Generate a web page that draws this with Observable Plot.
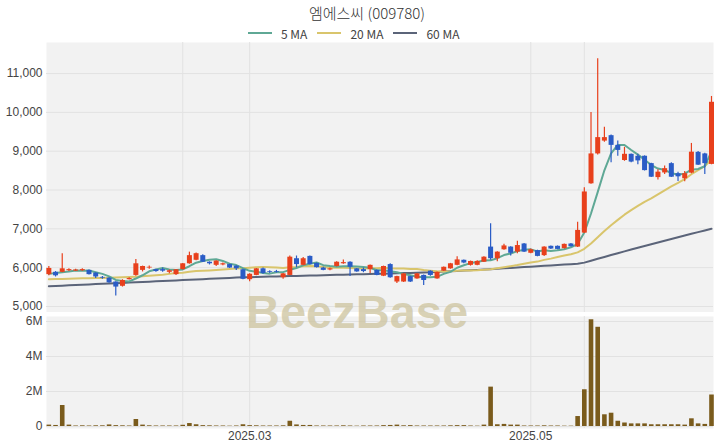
<!DOCTYPE html>
<html><head><meta charset="utf-8">
<script src="https://cdn.jsdelivr.net/npm/d3@7"></script>
<script src="https://cdn.jsdelivr.net/npm/@observablehq/plot@0.6"></script>
<style>
body{margin:0;background:#fff;width:720px;height:448px;overflow:hidden;position:relative;font-family:"Noto Sans CJK KR","Noto Sans",sans-serif}
#title{position:absolute;top:2px;left:0;width:734px;text-align:center;font-size:15px;color:#333;line-height:22px;font-weight:300}
#legend{position:absolute;top:25px;left:248px;height:16px;display:flex;align-items:center;font-size:12px;color:#444}
#legend .sw{display:inline-block;width:24px;height:2px;margin-right:9px}
#legend .it{display:flex;align-items:center;margin-right:10px}
#price{position:absolute;top:42px;left:0}
#vol{position:absolute;top:314px;left:0}
#wm{position:absolute;left:246px;top:284px;font-family:"Liberation Sans",Arial,sans-serif;font-weight:bold;font-size:47px;color:rgba(205,196,158,0.75);pointer-events:none;letter-spacing:0px}
svg text{font-family:"Liberation Sans",Arial,sans-serif}
</style></head>
<body>
<div id="title">엠에스씨 (009780)</div>
<div id="legend"></div>
<div id="price"></div>
<div id="vol"></div>
<div id="wm">BeezBase</div>
<script>
const opens = [5820,5880,5880,5920,5910,5920,5930,5860,5750,5730,
 5630,5520,5690,5800,5930,5990,5950,5950,5880,5820,
 5950,6100,6190,6310,6140,6060,6070,6080,6040,5945,
 5690,5800,5970,5900,5900,5740,5800,6230,6060,6290,
 6110,5990,5940,6030,6100,6140,5970,5950,5950,5930,
 5780,6080,5630,5630,5770,5710,5800,5910,5710,5910,
 5970,6060,6190,6060,6060,6140,6530,6230,6460,6530,
 6400,6610,6370,6440,6310,6550,6550,6490,6610,6530,
 6890,8160,8930,9260,9400,9150,8760,8920,8870,8870,
 8680,8320,8440,8680,8420,8290,8435,8970,8930,8660];
const highs = [6030,5900,6360,5970,5960,5970,5940,5870,5770,5740,
 5640,5690,5740,6210,6040,6040,5960,5990,5940,5950,
 6110,6400,6380,6330,6150,6180,6120,6090,6050,5960,
 5840,5980,5990,5920,5930,5850,6300,6300,6260,6300,
 6120,6010,5990,6150,6200,6150,5980,5990,6070,5940,
 6040,6100,5780,5850,5780,5850,5810,5920,5890,6020,
 6110,6280,6200,6170,6180,6280,7130,6410,6600,6540,
 6680,6620,6480,6450,6540,6560,6560,6610,6620,7170,
 8060,10000,11380,9620,9420,9260,9100,8930,8920,8880,
 8690,8520,8620,8700,8460,8480,9200,8990,8950,10410];
const lows = [5790,5760,5870,5900,5900,5910,5810,5720,5700,5600,
 5270,5500,5680,5780,5890,5960,5880,5880,5840,5800,
 5940,6090,6180,6130,6070,6030,6050,5980,5930,5690,
 5640,5790,5830,5850,5860,5700,5790,6000,6050,6070,
 5990,5920,5920,6020,6090,5770,5880,5870,5850,5790,
 5770,5730,5590,5620,5620,5700,5540,5780,5700,5900,
 5960,6050,6100,6040,6050,6130,6190,6150,6450,6300,
 6360,6390,6360,6280,6290,6470,6460,6480,6530,6520,
 6880,8150,8900,9230,8700,8870,8740,8700,8650,8490,
 8320,8260,8400,8320,8220,8210,8420,8630,8400,8650];
const closes = [5980,5790,5970,5950,5940,5950,5820,5760,5730,5610,
 5500,5670,5720,6100,6030,6010,5900,5910,5920,5945,
 6100,6310,6360,6140,6100,6170,6100,5990,5970,5700,
 5830,5970,5850,5880,5880,5840,6270,6080,6230,6080,
 6000,5930,5970,6140,6130,6010,5890,5900,6060,5800,
 6030,5740,5770,5840,5630,5840,5670,5800,5880,6010,
 6100,6200,6120,6160,6160,6270,6230,6400,6560,6370,
 6570,6400,6460,6290,6530,6480,6470,6600,6540,6960,
 7950,8930,9350,9350,9150,9020,8920,8720,8750,8500,
 8330,8460,8550,8330,8340,8420,8975,8640,8680,10260];
const volumes = [80000,60000,1200000,80000,30000,40000,30000,40000,40000,90000,
 50000,40000,30000,400000,80000,40000,30000,30000,30000,30000,
 70000,170000,100000,50000,40000,30000,30000,20000,30000,100000,
 50000,40000,30000,30000,30000,40000,300000,90000,60000,60000,
 30000,30000,30000,30000,40000,30000,20000,30000,30000,30000,
 50000,60000,80000,40000,50000,30000,30000,30000,30000,30000,
 40000,50000,50000,30000,20000,80000,2250000,100000,120000,80000,
 80000,30000,30000,30000,40000,30000,30000,20000,20000,570000,
 2100000,6100000,5670000,670000,760000,300000,200000,150000,150000,150000,
 100000,100000,100000,100000,100000,80000,440000,150000,120000,1800000];
// moving averages as read where the window reaches before the first candle
const ma5Head = [5840,5860,5880,5900];
const ma20Head = [5700,5705,5710,5715,5720,5725,5730,5733,5736,5740,5745,5750,5758,5768,5778,5790,5805,5820,5840];
const ma60 = [5520,5528,5536,5544,5552,5560,5568,5576,5584,5592,5600,5608,5616,5624,5632,5640,5648,5656,5664,5672,
 5680,5688,5696,5704,5712,5720,5728,5736,5744,5752,
 5756,5761,5765,5770,5774,5779,5783,5788,5792,5797,5801,5806,5810,5815,5819,5824,5828,5833,5837,5842,5846,5851,5855,5860,5864,5869,5874,5880,
 5889,5898,5907,5916,5925,5934,5943,5951,5960,
 5971,5982,5993,6004,6015,6026,6036,6047,6058,6068,6079,6090,6100,
 6130,6179,6228,6276,6324,6372,6419,6466,6513,6559,6605,6650,6695,6740,6784,6828,6872,6915,6958,7000];
const priceTicks = [5000,6000,7000,8000,9000,10000,11000];
const volTicks = [0,2000000,4000000,6000000];
const monthTickIndex = [30,72];
const monthTickLabels = ["2025.03","2025.05"];
const gridIndex = [20,30,72,80];
const maNames = ["5 MA","20 MA","60 MA"];
const maColors = ["#5fa895","#d9c56c","#5b6479"];
const upColor = "#e8401c", downColor = "#2a5cc6", volColor = "#7a5b1c";
const bg = "#f2f2f2", gridColor = "#e2e2e2";

const ma5 = closes.map((c,i)=> i<4 ? ma5Head[i] : d3.mean(closes.slice(i-4,i+1)));
const ma20 = closes.map((c,i)=> i<19 ? ma20Head[i] : d3.mean(closes.slice(i-19,i+1)));
const rows = closes.map((c,i)=>({i, open:opens[i], high:highs[i], low:lows[i], close:c, volume:volumes[i], up:c>=opens[i], ma5:ma5[i], ma20:ma20[i], ma60:ma60[i]}));

// legend
const lg = document.getElementById("legend");
maNames.forEach((n,k)=>{
  const it = document.createElement("span"); it.className="it";
  it.innerHTML = `<span class="sw" style="background:${maColors[k]}"></span><span>${n}</span>`;
  lg.appendChild(it);
});

const xDomain = [-0.35, 99.3];
const price = Plot.plot({
  width:720, height:270, marginLeft:46, marginRight:7, marginTop:0, marginBottom:0,
  style:{background:"transparent", color:"#444", fontSize:"12px"},
  x:{type:"linear", domain:xDomain, axis:null},
  y:{domain:[4845,11800], axis:null},
  marks:[
    Plot.frame({fill:bg, stroke:null}),
    Plot.gridY(priceTicks, {stroke:gridColor, strokeOpacity:1}),
    Plot.gridX(gridIndex, {stroke:gridColor, strokeOpacity:1}),
    Plot.axisY(priceTicks, {tickSize:0, tickPadding:4, tickFormat:d3.format(","), fontSize:12, label:null}),
    Plot.line(rows, {x:"i", y:"ma60", stroke:maColors[2], strokeWidth:2}),
    Plot.line(rows, {x:"i", y:"ma20", stroke:maColors[1], strokeWidth:2}),
    Plot.line(rows, {x:"i", y:"ma5", stroke:maColors[0], strokeWidth:2}),
    Plot.ruleX(rows.filter(d=>d.up), {x:"i", y1:"low", y2:"high", stroke:upColor, strokeWidth:1.2}),
    Plot.ruleX(rows.filter(d=>!d.up), {x:"i", y1:"low", y2:"high", stroke:downColor, strokeWidth:1.2}),
    Plot.ruleX(rows.filter(d=>d.up), {x:"i", y1:"open", y2:"close", stroke:upColor, strokeWidth:5}),
    Plot.ruleX(rows.filter(d=>!d.up), {x:"i", y1:"open", y2:"close", stroke:downColor, strokeWidth:5})
  ]
});
document.getElementById("price").appendChild(price);

const vol = Plot.plot({
  width:720, height:134, marginLeft:46, marginRight:7, marginTop:2, marginBottom:20,
  style:{background:"transparent", color:"#444", fontSize:"12px"},
  x:{type:"linear", domain:xDomain, axis:null},
  y:{domain:[-114000,6286000], axis:null},
  marks:[
    Plot.frame({fill:bg, stroke:null}),
    Plot.gridY(volTicks, {stroke:gridColor, strokeOpacity:1}),
    Plot.gridX(gridIndex, {stroke:gridColor, strokeOpacity:1}),
    Plot.axisY(volTicks, {tickSize:0, tickPadding:4, fontSize:12, label:null, tickFormat:d=> d===0 ? "0" : (d/1e6)+"M"}),
    Plot.axisX(monthTickIndex, {tickSize:0, tickPadding:3, fontSize:12, label:null, tickFormat:d=>monthTickLabels[monthTickIndex.indexOf(d)]}),
    Plot.ruleX(rows, {x:"i", y1:0, y2:"volume", stroke:volColor, strokeWidth:4.6})
  ]
});
document.getElementById("vol").appendChild(vol);
</script>
</body></html>
